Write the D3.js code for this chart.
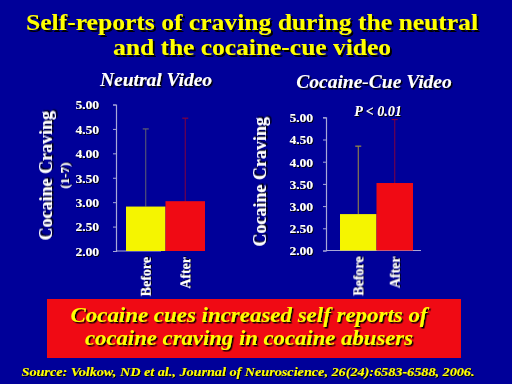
<!DOCTYPE html>
<html><head><meta charset="utf-8">
<script src="https://cdn.jsdelivr.net/npm/d3@7"></script>
<style>body{margin:0;background:#000099;}svg{display:block;} text{font-family:"Liberation Serif","Times New Roman",serif;font-weight:bold;}</style>
</head><body>
<script>
const categories = ["Before", "After"];
const neutralValues = [2.91, 3.02];
const neutralErrors = [4.50, 4.72];
const cueValues = [2.82, 3.52];
const cueErrors = [4.35, 4.95];
const yTicks = [2.00, 2.50, 3.00, 3.50, 4.00, 4.50, 5.00];

const W = 512, H = 384;
const svg = d3.select("body").append("svg").attr("width", W).attr("height", H);
const defs = svg.append("defs");
[["sh2", 2], ["sh15", 1.5], ["sh1", 1]].forEach(([id, d]) => {
  defs.append("filter").attr("id", id).attr("x", "-10%").attr("y", "-30%").attr("width", "130%").attr("height", "160%")
    .append("feDropShadow").attr("dx", d).attr("dy", d).attr("stdDeviation", 0.3)
    .attr("flood-color", "#000").attr("flood-opacity", 1);
});
svg.append("rect").attr("width", W).attr("height", H).attr("fill", "#000099");

function sText(g, x, y, txt, opts) {
  const o = Object.assign({size: 12, fill: "#fff", italic: false, anchor: "middle", sh: "sh1", rotate: null, len: null}, opts);
  const t = g.append("text")
    .attr("font-style", o.italic ? "italic" : "normal")
    .attr("font-size", o.size).attr("fill", o.fill)
    .attr("text-anchor", o.anchor).attr("filter", `url(#${o.sh})`).text(txt);
  if (o.len) t.attr("textLength", o.len).attr("lengthAdjust", "spacingAndGlyphs");
  if (o.rotate !== null) t.attr("transform", `translate(${x},${y}) rotate(${o.rotate})`);
  else t.attr("x", x).attr("y", y);
  return t;
}

// Title
sText(svg, 252, 30, "Self-reports of craving during the neutral", {size: 23.5, fill: "#ffff00", sh: "sh2", len: 452});
sText(svg, 252, 55, "and the cocaine-cue video", {size: 23.5, fill: "#ffff00", sh: "sh2", len: 278});

function panel(cfg) {
  const g = svg.append("g");
  const y = d3.scaleLinear().domain([2, 5]).range([cfg.y0, cfg.y1]);
  const x = d3.scaleBand().domain(categories).range([cfg.bx0, cfg.bx1]).padding(0);
  const ax = g.append("g").attr("transform", `translate(${cfg.ax},0)`)
    .call(d3.axisLeft(y).tickValues(yTicks).tickSize(3).tickFormat(d3.format(".2f")));
  ax.attr("font-family", null).attr("font-size", null);
  ax.select(".domain").attr("stroke", "#a8a8d8").attr("stroke-width", 1.2);
  ax.selectAll(".tick line").attr("stroke", "#a8a8d8");
  ax.selectAll(".tick text").attr("fill", "#fff").attr("font-size", 13.5)
    .attr("x", -(cfg.ax - cfg.labelX)).attr("filter", "url(#sh1)");
  g.append("line").attr("x1", cfg.ax).attr("x2", cfg.xEnd).attr("y1", y(2)).attr("y2", y(2))
    .attr("stroke", "#a8a8d8").attr("stroke-width", 1.2);
  g.selectAll(".err").data(categories).enter().append("g").each(function(c, i) {
    const cx = x(c) + x.bandwidth() / 2;
    const e = d3.select(this);
    e.append("line").attr("x1", cx).attr("x2", cx).attr("y1", y(cfg.values[i])).attr("y2", y(cfg.errors[i]))
      .attr("stroke", cfg.errColors[i]).attr("stroke-width", 1);
    e.append("line").attr("x1", cx - 3).attr("x2", cx + 3).attr("y1", y(cfg.errors[i])).attr("y2", y(cfg.errors[i]))
      .attr("stroke", cfg.errColors[i]).attr("stroke-width", 1.2);
  });
  const colors = ["#f5f500", "#f00a14"];
  g.selectAll(".bar").data(categories).enter().append("rect")
    .attr("x", c => x(c)).attr("width", x.bandwidth())
    .attr("y", (c, i) => y(cfg.values[i])).attr("height", (c, i) => y(2) - y(cfg.values[i]))
    .attr("fill", (c, i) => colors[i]);
  categories.forEach(c => {
    const cx = x(c) + x.bandwidth() / 2 + 5;
    sText(g, cx, y(2) + 6, c, {size: 14, anchor: "end", rotate: -90});
  });
  sText(g, cfg.titleX, cfg.titleY, cfg.title, {size: 19.5, italic: true, sh: "sh15"});
  sText(g, cfg.ylabX, (cfg.y0 + cfg.y1) / 2 - 2, "Cocaine Craving", {size: 18, rotate: -90, sh: "sh15"});
  if (cfg.sub) sText(g, cfg.subX, (cfg.y0 + cfg.y1) / 2 - 2, cfg.sub, {size: 13, rotate: -90});
  if (cfg.p) sText(g, cfg.pX, cfg.pY, cfg.p, {size: 14, italic: true});
}

panel({values: neutralValues, errors: neutralErrors, y0: 251, y1: 104.5, ax: 116, labelX: 99,
  bx0: 126, bx1: 205, xEnd: 161, title: "Neutral Video", titleX: 156, titleY: 86,
  ylabX: 52, sub: "(1-7)", subX: 69, errColors: ["#606070", "#800040"]});
panel({values: cueValues, errors: cueErrors, y0: 250.5, y1: 117.3, ax: 326, labelX: 313,
  bx0: 340, bx1: 413, xEnd: 421, title: "Cocaine-Cue Video", titleX: 374, titleY: 88,
  ylabX: 266, p: "P < 0.01", pX: 378, pY: 116, errColors: ["#a09040", "#800040"]});

svg.append("rect").attr("x", 47).attr("y", 299).attr("width", 414).attr("height", 59).attr("fill", "#f00a14");
sText(svg, 249, 322, "Cocaine cues increased self reports of", {size: 21, italic: true, fill: "#ffff00", sh: "sh15", len: 357});
sText(svg, 249, 345, "cocaine craving in cocaine abusers", {size: 21, italic: true, fill: "#ffff00", sh: "sh15", len: 328});
sText(svg, 248, 376, "Source: Volkow, ND et al., Journal of Neuroscience, 26(24):6583-6588, 2006.", {size: 13, italic: true, fill: "#ffff00", len: 453});
</script>
</body></html>
